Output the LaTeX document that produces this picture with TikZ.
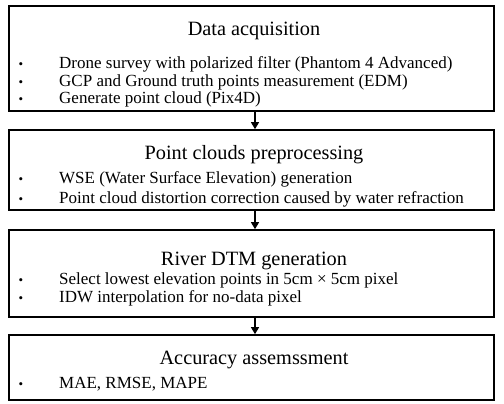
\documentclass[tikz,border=0pt]{standalone}
\usepackage{fontspec}
\setmainfont{Liberation Serif}
\usetikzlibrary{arrows.meta}
\begin{document}
\begin{tikzpicture}[x=1pt,y=1pt,
  box/.style={draw=black, line width=1.6pt, minimum width=485pt, inner sep=0pt, fill=white},
  ttl/.style={anchor=mid, font=\fontsize{20.3}{24}\selectfont, inner sep=0pt},
  itm/.style={anchor=mid west, font=\fontsize{17}{20}\selectfont, inner sep=0pt},
  bul/.style={anchor=mid, font=\fontsize{13}{16}\selectfont, inner sep=0pt},
  flow/.style={line width=1.2pt, -{Triangle[length=7pt,width=8pt]}}]
\useasboundingbox (0,0) rectangle (504,404);
% boxes (y = 404 - pixel row)
\node[box, minimum height=105pt] (b1) at (251.5, 345.5) {};
\node[box, minimum height=80pt] (b2) at (251.5, 234) {};
\node[box, minimum height=87pt] (b3) at (251.5, 130.5) {};
\node[box, minimum height=65pt] (b4) at (251.5, 36.5) {};
% box 1
\node[ttl] (t1) at (254, 370.5) {Data acquisition};
\node[bul] (p11) at (21, 338) {•};
\node[itm] (i11) at (59, 338) {Drone survey with polarized filter (Phantom 4 Advanced)};
\node[bul] (p12) at (21, 320) {•};
\node[itm] (i12) at (59, 320) {GCP and Ground truth points measurement (EDM)};
\node[bul] (p13) at (21, 303) {•};
\node[itm] (i13) at (59, 303) {Generate point cloud (Pix4D)};
% box 2
\node[ttl] (t2) at (254, 247) {Point clouds preprocessing};
\node[bul] (p21) at (21, 223) {•};
\node[itm] (i21) at (59, 223) {WSE (Water Surface Elevation) generation};
\node[bul] (p22) at (21, 203) {•};
\node[itm] (i22) at (59, 203) {Point cloud distortion correction caused by water refraction};
% box 3
\node[ttl] (t3) at (254, 141) {River DTM generation};
\node[bul] (p31) at (21, 122) {•};
\node[itm] (i31) at (59, 122) {Select lowest elevation points in 5cm × 5cm pixel};
\node[bul] (p32) at (21, 104) {•};
\node[itm] (i32) at (59, 104) {IDW interpolation for no-data pixel};
% box 4
\node[ttl] (t4) at (254, 42) {Accuracy assemssment};
\node[bul] (p41) at (21, 18) {•};
\node[itm] (i41) at (59, 18) {MAE, RMSE, MAPE};
% arrows
\draw[flow] ([xshift=3.5pt]b1.south) -- ([xshift=3.5pt]b2.north);
\draw[flow] ([xshift=3.5pt]b2.south) -- ([xshift=3.5pt]b3.north);
\draw[flow] ([xshift=3.5pt]b3.south) -- ([xshift=3.5pt]b4.north);
\end{tikzpicture}
\end{document}
